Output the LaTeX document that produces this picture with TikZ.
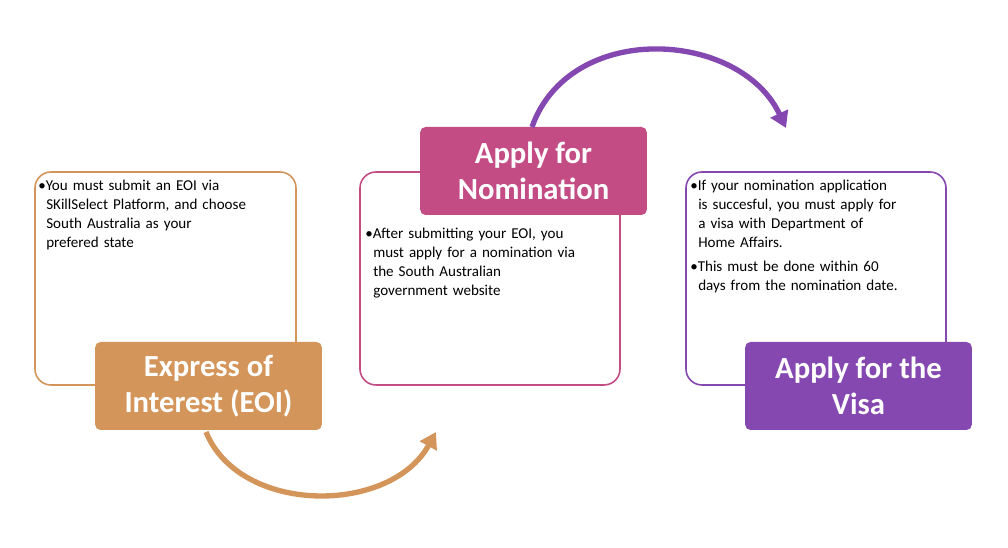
\documentclass[tikz,border=0pt]{standalone}
\usepackage{fontspec}
\setmainfont{Carlito}
\usetikzlibrary{arrows.meta}
\definecolor{orng}{HTML}{D4955A}
\definecolor{pnk}{HTML}{C34C84}
\definecolor{prp}{HTML}{8448B0}
\tikzset{
 outline/.style={draw=#1, line width=1.2pt, rounded corners=12pt},
 label/.style={fill=#1, rounded corners=4pt, text=white, font=\fontsize{23}{27}\selectfont\bfseries, align=center, minimum width=170pt, minimum height=66pt, inner sep=0pt},
 body/.style={anchor=north west, font=\fontsize{11.3}{14.2}\selectfont, align=left, text width=182pt, inner sep=0pt},
 arc/.style={line width=4pt, draw=#1, -{Triangle[length=12pt,width=14pt]}}
}
\begin{document}
\begin{tikzpicture}[x=0.75pt,y=-0.75pt]
\useasboundingbox (0,0) rectangle (1008,548);
\draw[outline=orng] (35,172) rectangle (296,385);
\draw[outline=pnk] (360,172) rectangle (620,385);
\draw[outline=prp] (686,172) rectangle (946,385);
\node[label=orng] (l1) at (208.5,386) {Express of\\Interest (EOI)};
\node[label=pnk] (l2) at (533.5,171) {Apply for\\Nomination};
\node[label=prp] (l3) at (858.5,386) {Apply for the\\Visa};
\node[body] (t1) at (38,180) {\textbullet You must submit an EOI via\\\hspace*{6pt}SKillSelect Platform, and choose\\\hspace*{6pt}South Australia as your\\\hspace*{6pt}prefered state};
\node[body] (t2) at (365,228) {\textbullet After submitting your EOI, you\\\hspace*{6pt}must apply for a nomination via\\\hspace*{6pt}the South Australian\\\hspace*{6pt}government website};
\node[body] (t3) at (690,180) {\textbullet If your nomination application\\\hspace*{6pt}is succesful, you must apply for\\\hspace*{6pt}a visa with Department of\\\hspace*{6pt}Home Affairs.\\[4pt]\textbullet This must be done within 60\\\hspace*{6pt}days from the nomination date.};
\coordinate (a1) at (206,432);
\coordinate (b1) at (436,432);
\coordinate (a2) at (532,127);
\coordinate (b2) at (786,128);
\draw[arc=orng] (a1) .. controls (240,515) and (390,515) .. (b1);
\draw[arc=prp] (a2) .. controls (570,20) and (740,30) .. (b2);
\end{tikzpicture}
\end{document}
